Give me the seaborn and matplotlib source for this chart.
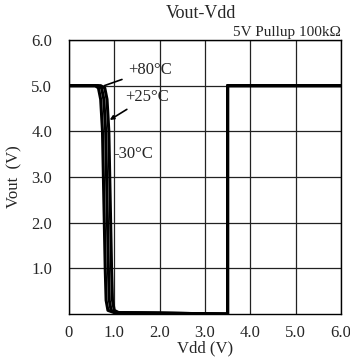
import matplotlib
matplotlib.use("Agg")
import matplotlib.pyplot as plt
import seaborn as sns
import pandas as pd

# Vdd (V) / Vout (V), one curve per temperature
VDD_M30 = [0.0, 0.58, 0.65, 0.70, 0.74, 0.76, 0.78, 0.80, 0.82, 0.86, 1.0, 2.0, 3.5, 3.5, 6.0]
VOUT_M30 = [5.0, 5.0, 4.95, 4.7, 4.0, 3.0, 2.0, 1.0, 0.3, 0.08, 0.03, 0.02, 0.0, 5.0, 5.0]
VDD_25 = [0.0, 0.64, 0.72, 0.77, 0.81, 0.83, 0.85, 0.87, 0.89, 0.93, 1.05, 2.0, 3.5, 3.5, 6.0]
VOUT_25 = [5.0, 5.0, 4.95, 4.7, 4.0, 3.0, 2.0, 1.0, 0.3, 0.08, 0.03, 0.02, 0.0, 5.0, 5.0]
VDD_80 = [0.0, 0.70, 0.79, 0.84, 0.88, 0.90, 0.92, 0.94, 0.96, 1.0, 1.1, 2.0, 3.5, 3.5, 6.0]
VOUT_80 = [5.0, 5.0, 4.95, 4.7, 4.0, 3.0, 2.0, 1.0, 0.3, 0.08, 0.03, 0.02, 0.0, 5.0, 5.0]

X_TICKS = [0, 1, 2, 3, 4, 5, 6]
X_LABELS = ["0", "1.0", "2.0", "3.0", "4.0", "5.0", "6.0"]
Y_TICKS = [1, 2, 3, 4, 5, 6]
Y_LABELS = ["1.0", "2.0", "3.0", "4.0", "5.0", "6.0"]

sns.set_style("white")
plt.rcParams['font.family'] = ['Liberation Serif', 'DejaVu Serif']

fig = plt.figure(figsize=(3.5, 3.59), dpi=100)
ax = fig.add_axes([0.197, 0.1253, 0.777, 0.7633])

curves = [(VDD_M30, VOUT_M30), (VDD_25, VOUT_25), (VDD_80, VOUT_80)]
for vdd, vout in curves:
    df = pd.DataFrame({"Vdd": vdd, "Vout": vout})
    sns.lineplot(data=df, x="Vdd", y="Vout", sort=False, estimator=None,
                 color="black", lw=2.2, ax=ax)

ax.set_xlim(0, 6)
ax.set_ylim(0, 6)
ax.set_xticks(X_TICKS)
ax.set_xticklabels(X_LABELS)
ax.set_yticks(Y_TICKS)
ax.set_yticklabels(Y_LABELS)
ax.tick_params(axis="both", length=0, labelsize=12)
ax.tick_params(axis="x", pad=8)
ax.tick_params(axis="y", pad=12)
ax.grid(True, color="#222222", lw=0.9)
for s in ax.spines.values():
    s.set_color("black")
    s.set_linewidth(1.0)

ax.set_xlabel("Vdd (V)", fontsize=12)
ax.xaxis.set_label_coords(0.5, -0.095)
ax.set_ylabel("Vout  (V)", fontsize=12)
ax.yaxis.set_label_coords(-0.17, 0.5)

fig.text(0.575, 0.963, "Vout-Vdd", ha="center", va="center", fontsize=13)
ax.text(1.0, 1.005, "5V Pullup 100k\u03a9", transform=ax.transAxes,
        ha="right", va="bottom", fontsize=11)

# temperature labels
ax.annotate("+80\u00b0C", xy=(0.78, 5.0), xytext=(1.3, 5.35),
            fontsize=12, ha="left", va="center",
            arrowprops=dict(arrowstyle="-", color="black", lw=1.2,
                            shrinkA=2, shrinkB=0))
ax.annotate("+25\u00b0C", xy=(0.9, 4.25), xytext=(1.25, 4.76),
            fontsize=12, ha="left", va="center",
            arrowprops=dict(arrowstyle="-|>", color="black", lw=1.2,
                            mutation_scale=6, shrinkA=2, shrinkB=0))
ax.text(0.97, 3.5, "-30\u00b0C", fontsize=12, ha="left", va="center")

fig.savefig("out.png", dpi=100)
